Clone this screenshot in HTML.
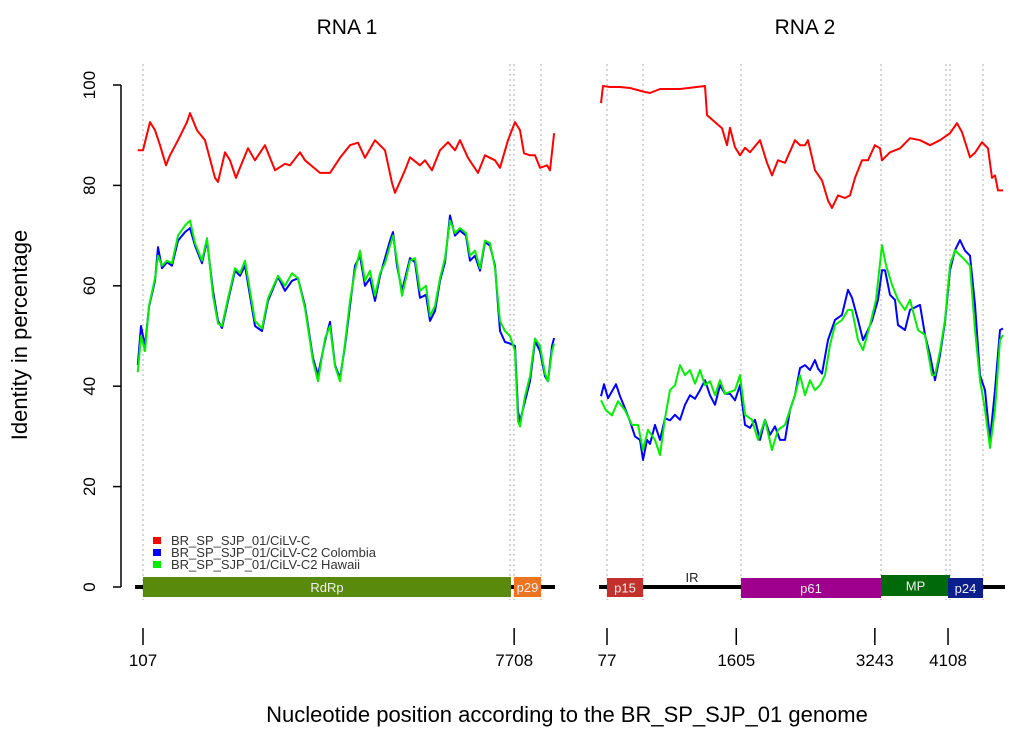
<!DOCTYPE html>
<html><head><meta charset="utf-8"><style>
html,body{margin:0;padding:0;background:#fff;}
svg{display:block;font-family:"Liberation Sans",Arial,sans-serif;}
</style></head><body>
<svg id="chart" width="1024" height="740" viewBox="0 0 1024 740" xmlns="http://www.w3.org/2000/svg">
<text x="347" y="34" font-size="21" text-anchor="middle" fill="#000">RNA 1</text>
<text x="805" y="34" font-size="21" text-anchor="middle" fill="#000">RNA 2</text>
<text x="0" y="0" font-size="22" text-anchor="middle" transform="translate(27,335) rotate(-90)">Identity in percentage</text>
<text x="567" y="722" font-size="22" text-anchor="middle">Nucleotide position according to the BR_SP_SJP_01 genome</text>
<g id="axis"></g>
<g id="guides"></g>
<g id="genes"></g>
<g id="series"></g>
<g font-size="13" fill="#333">
<rect x="153" y="537" width="8" height="7" fill="#ff0000"/>
<text x="171" y="545">BR_SP_SJP_01/CiLV-C</text>
<rect x="153" y="549" width="8" height="7" fill="#0000ff"/>
<text x="171" y="557">BR_SP_SJP_01/CiLV-C2 Colombia</text>
<rect x="153" y="561" width="8" height="7" fill="#00ee00"/>
<text x="171" y="569">BR_SP_SJP_01/CiLV-C2 Hawaii</text>
</g>
</svg>
<script>
const NS="http://www.w3.org/2000/svg";
const yTicks=[0,20,40,60,80,100];
const p1Bounds=[107,7708];
const p2Bounds=[77,1605,3243,4108];
const p1RedPos=[0,107,250,353,455,578,660,824,1008,1070,1213,1377,1582,1643,1786,1889,2012,2094,2258,2401,2606,2810,3015,3118,3322,3425,3732,3937,4142,4346,4510,4653,4858,5063,5206,5268,5473,5575,5780,5882,6026,6190,6353,6497,6599,6763,6968,7111,7316,7418,7582,7726,7828,7910,8033,8135,8238,8381,8443,8525];
const p1Red=[87,87,92.6,91,88,84,86,89,92.6,94.4,91,89,81.5,80.7,86.6,85,81.5,83.5,87.4,85,88,83,84.3,84,86.6,85,82.5,82.5,85.5,88,88.5,85.5,89,87,80.5,78.5,83,85.6,84,85,83,87,88.6,87,89,85.5,82.5,86,85,83.5,89,92.6,91,86.4,86,86,83.5,84,83,90.4];
const p1Pos=[0,66,148,230,353,414,496,599,701,824,967,1070,1172,1315,1418,1541,1643,1725,1848,1991,2094,2196,2401,2544,2667,2872,3015,3158,3281,3425,3589,3691,3834,3937,4039,4142,4244,4346,4449,4551,4653,4756,4858,4961,5063,5165,5227,5309,5411,5575,5677,5780,5903,5985,6087,6190,6292,6394,6497,6599,6722,6804,6906,7009,7111,7214,7316,7418,7521,7623,7726,7787,7828,7930,8033,8135,8238,8340,8402,8484,8525];
const p1Blue=[44.2,52,48,55.8,61,67.7,63.5,64.7,64,69,70.7,71.5,68,64.5,69,59,53,51.6,57,63,62,64,52,51,57,61.8,59,61,61.5,56,45.6,42.2,49,52.8,44.2,41.6,48,56,64,66,60,61.5,57,62,65.5,69,70.7,64,59,65.5,64.7,57.6,58.2,53,55,61,64.7,74,70,71,70,65,66,63,68.7,68,64,51,48.8,48.5,48,35,33,37,41,49,47,42,41,48,49.6];
const p1Green=[42.8,50,47,56,61.5,66,64,65,64.5,70,72,73,68.5,65,69.5,58,52.5,52,57.5,63.5,62.5,65,53,51.5,57.5,62,60,62.5,61.5,55.5,45,41,49.5,52,44,41,48.5,57,63,67,61,63,58,62.5,64.5,68,70,65,58,65,65.5,59,60,54,56,61.5,65.5,73,70.5,71.5,70.5,66,67,63.5,69,68.5,63.5,53,51,50,47,33,32,38,42,49.5,48,42.5,41,47,48.5];
const p2RedPos=[6,30,112,231,349,526,585,703,940,1235,1259,1354,1436,1495,1531,1590,1649,1708,1767,1885,1968,2027,2098,2181,2299,2358,2417,2453,2536,2618,2689,2737,2808,2890,2949,3008,3091,3162,3244,3304,3328,3422,3541,3659,3777,3895,4013,4131,4214,4273,4368,4427,4510,4580,4628,4663,4699,4758];
const p2Red=[96.4,99.8,99.6,99.6,99.4,98.6,98.4,99.2,99.2,99.8,94,92.6,91.4,88,91.5,87.6,86,87.5,86.6,89,84.5,82,85,84.5,89,88,88,89,83,81,77,75.5,78,77.5,78,81.5,85,85,88,87.4,85,86.6,87.4,89.4,89,88,89,90.4,92.4,90.6,85.6,86.5,88.6,87.4,81.5,82,79,79];
const p2BluePos=[6,42,89,136,183,231,290,349,408,467,503,550,585,644,703,763,822,881,940,999,1058,1117,1176,1235,1294,1354,1413,1472,1531,1590,1649,1708,1767,1826,1885,1945,2004,2063,2122,2181,2240,2299,2358,2417,2476,2536,2571,2618,2689,2772,2855,2926,2973,3044,3103,3162,3209,3280,3328,3363,3422,3481,3517,3600,3659,3777,3836,3895,3954,4013,4072,4131,4190,4250,4309,4368,4427,4486,4545,4604,4663,4722,4758];
const p2Blue=[38,40.4,37.6,39,40.4,38,35.6,33,30,29.3,25.3,29.3,28.5,32.3,29.3,33.6,33.2,34.3,33.3,36.3,38.2,37.5,39.2,41.2,38.2,36.3,40.2,38.5,38.5,37.2,40.2,32.3,31.7,33.3,29.3,33.3,30.3,32,29.3,29.3,35.3,38.2,43.6,44.2,43.2,45.2,43.5,42.5,49.2,53.2,54.2,59.2,57.6,53.2,49.2,51.2,53,57.2,63.1,63.1,58.2,57.2,52.2,51.2,55.2,56.2,50.2,46.2,41.2,46.2,52.8,63.1,67.1,69.1,67,66,56.2,42.2,39.2,29.3,39.2,51.2,51.5];
const p2GreenPos=[6,65,136,207,290,372,443,503,562,644,703,763,822,881,940,999,1058,1117,1176,1235,1294,1354,1413,1472,1590,1649,1708,1791,1862,1945,2027,2098,2181,2240,2299,2358,2417,2476,2536,2595,2654,2713,2772,2855,2926,2973,3044,3103,3186,3257,3328,3375,3446,3517,3600,3659,3753,3836,3919,3954,4013,4072,4131,4190,4250,4309,4368,4427,4486,4545,4604,4663,4722,4758];
const p2Green=[37.2,35.2,34.2,37,35.2,32.3,32.3,27.3,31.3,29.3,26.3,33.6,39.2,40.2,44.2,42.2,43.2,40.5,43.2,40.2,41,38.2,41.2,38.5,39.2,42.2,34.3,33.3,29.3,33.3,27.3,31.3,32.3,35.3,38.2,42.2,38.2,41.2,39.2,40.2,42.2,48.2,52.2,53.2,55.2,55.2,49.2,47.2,52.2,57.2,68.1,64.1,60.2,57.2,55.2,57.2,51.2,50.2,42.2,42.2,47,53.2,64.1,67.1,66.1,65.1,64,51.2,41.2,35.3,27.7,35.3,49.2,50.2];

function yS(v){return 587-v*5.02;}
function x1(n){return 143+(n-107)*0.04883;}
function x2(n){return 607+(n-77)*0.0846;}
function mk(tag,attrs,parent){const e=document.createElementNS(NS,tag);for(const k in attrs)e.setAttribute(k,attrs[k]);parent.appendChild(e);return e;}

// y axis
const ax=document.getElementById('axis');
const al=mk('line',{x1:121,x2:121,y1:yS(100),y2:yS(0),stroke:'#000','stroke-width':1.5},ax);


yTicks.forEach(t=>{
  const tl=mk('line',{x1:113,x2:121,y1:yS(t),y2:yS(t),stroke:'#000','stroke-width':1.5},ax);
  
  
  const tx=mk('text',{x:0,y:0,'font-size':17,'text-anchor':'middle',transform:'translate(95,'+yS(t)+') rotate(-90)'},ax);
  tx.textContent=t;
  
  
});

// guides
const gd=document.getElementById('guides');
[143,510,514,541].forEach(x=>{const l=mk('line',{x1:x,x2:x,y1:64,y2:600,stroke:'#bbb','stroke-width':1.2,'stroke-dasharray':'2,3'},gd);
  
  });
[607,643,741,881,946,950,983].forEach(x=>{const l=mk('line',{x1:x,x2:x,y1:64,y2:600,stroke:'#bbb','stroke-width':1.2,'stroke-dasharray':'2,3'},gd);
  
  });

// gene track
const gn=document.getElementById('genes');
const bl1=mk('line',{x1:135,x2:555,y1:587,y2:587,stroke:'#000','stroke-width':4},gn);


const bl2=mk('line',{x1:599,x2:1005,y1:587,y2:587,stroke:'#000','stroke-width':4},gn);


const genes=[[143,511,577,597,'#598a0b','RdRp'],[514,541,577,597,'#ea7420','p29'],[607,643,578,597,'#c2312c','p15'],[741,881,578,598,'#a0008e','p61'],[881,950,575,596,'#00690a','MP'],[948,983,578,598,'#0b1f8c','p24']];
genes.forEach(g=>{
  const r=mk('rect',{x:g[0],y:g[2],width:g[1]-g[0],height:g[3]-g[2],fill:g[4]},gn);
  
  
  const t=mk('text',{x:(g[0]+g[1])/2,y:(g[2]+g[3])/2+5,'font-size':13,'text-anchor':'middle',fill:'#eee'},gn);
  t.textContent=g[5];
  
  
});
const ir=mk('text',{x:692,y:582,'font-size':13,'text-anchor':'middle',fill:'#222'},gn);
ir.textContent='IR';


function xTick(x,label){
  const l=mk('line',{x1:x,x2:x,y1:628,y2:645,stroke:'#000','stroke-width':1.5},gn);
  
  
  const t=mk('text',{x:x,y:666,'font-size':17,'text-anchor':'middle'},gn);
  t.textContent=label;
  
  
}
p1Bounds.forEach(n=>xTick(x1(n),n));
p2Bounds.forEach(n=>xTick(x2(n),n));

// series
const sr=document.getElementById('series');
function line(pos,vals,xf,color,name){
  const d=pos.map((p,i)=>(i?'L':'M')+xf(p).toFixed(1)+','+yS(vals[i]).toFixed(1)).join('');
  const p=mk('path',{d:d,fill:'none',stroke:color,'stroke-width':2,'stroke-linejoin':'round'},sr);
  
  
}
line(p1Pos,p1Blue,x1,'#0000ff','rna1-colombia-line');
line(p1Pos,p1Green,x1,'#00ee00','rna1-hawaii-line');
line(p1RedPos,p1Red,x1,'#ff0000','rna1-cilv-c-line');
line(p2BluePos,p2Blue,x2,'#0000ff','rna2-colombia-line');
line(p2GreenPos,p2Green,x2,'#00ee00','rna2-hawaii-line');
line(p2RedPos,p2Red,x2,'#ff0000','rna2-cilv-c-line');
</script>
</body></html>
